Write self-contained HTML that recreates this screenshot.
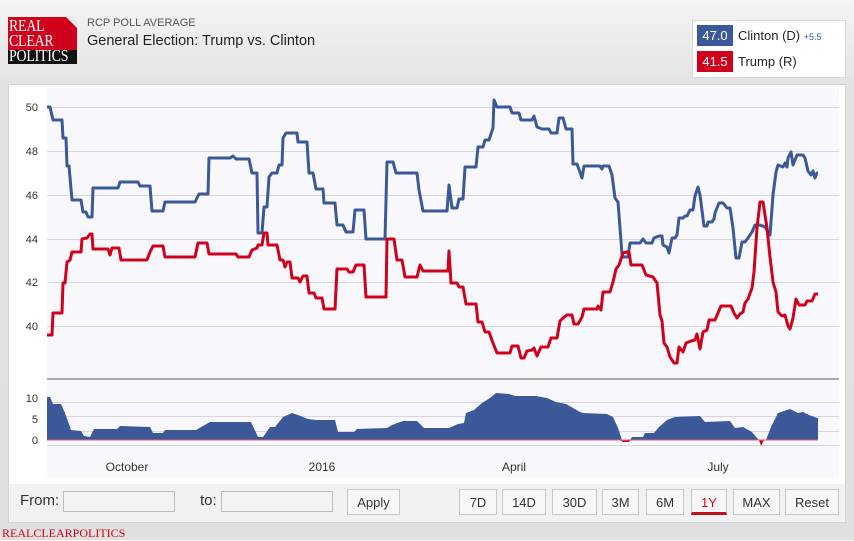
<!DOCTYPE html>
<html><head><meta charset="utf-8"><style>
body{margin:0;width:854px;height:540px;overflow:hidden;background:linear-gradient(#f4f4f4,#e2e2e2 90px,#e0e0e0);font-family:"Liberation Sans",sans-serif;position:relative}
.a{position:absolute}
.btn{position:absolute;top:489px;height:26px;border:1px solid #c8c8c8;background:#f7f7f7;font-size:13px;line-height:26px;text-align:center;color:#333;box-sizing:border-box}
.inp{position:absolute;top:491px;height:21px;border:1px solid #bbb;background:#f3f3f3;box-sizing:border-box}
</style></head><body>
<div class="a" style="left:8px;top:17px;width:69px;height:47px;background:#d0021b"></div>
<div class="a" style="left:66px;top:17px;width:0;height:0;border-left:11px solid transparent;border-top:11px solid #e9e9e9"></div>
<div class="a" style="left:8px;top:50px;width:69px;height:14px;background:#111"></div>
<div class="a" style="left:9px;top:18px;color:#fff;font-family:'Liberation Serif',serif;font-size:17px;line-height:15px;transform:scaleX(0.82);transform-origin:0 0;letter-spacing:-0.3px">REAL<br>CLEAR<br>POLITICS</div>
<div class="a" style="left:87px;top:17px;font-size:11px;color:#555">RCP POLL AVERAGE</div>
<div class="a" style="left:87px;top:33px;font-size:14.5px;color:#222">General Election: Trump vs. Clinton</div>
<div class="a" style="left:692px;top:20px;width:154px;height:58px;background:#fff;border:1px solid #d8d8d8;box-sizing:border-box"></div>
<div class="a" style="left:697px;top:25px;width:36px;height:21px;background:#3b5998;color:#fff;font-size:13px;line-height:21px;text-align:center">47.0</div>
<div class="a" style="left:738px;top:28px;font-size:13px;color:#222">Clinton (D) <span style="font-size:9px;color:#3b5998">+5.5</span></div>
<div class="a" style="left:697px;top:51px;width:36px;height:21px;background:#d0021b;color:#fff;font-size:13px;line-height:21px;text-align:center">41.5</div>
<div class="a" style="left:738px;top:54px;font-size:13px;color:#222">Trump (R)</div>
<div class="a" style="left:8px;top:84px;width:838px;height:439px;background:#fff;border:1px solid #d4d4d4;box-sizing:border-box"></div>
<svg class="a" style="left:0;top:0" width="854" height="540">
<rect x="47" y="88" width="792" height="390" fill="#f8f8fc"/>
<g stroke="#d6d6dc" stroke-width="1">
<line x1="47" x2="839" y1="107.5" y2="107.5"/><line x1="47" x2="839" y1="151.5" y2="151.5"/><line x1="47" x2="839" y1="195.5" y2="195.5"/><line x1="47" x2="839" y1="239.5" y2="239.5"/><line x1="47" x2="839" y1="282.5" y2="282.5"/><line x1="47" x2="839" y1="326.5" y2="326.5"/>
<line x1="47" x2="839" y1="402.5" y2="402.5"/><line x1="47" x2="839" y1="416.5" y2="416.5"/><line x1="47" x2="839" y1="431.5" y2="431.5"/><line x1="47" x2="839" y1="445.5" y2="445.5"/>
</g>
<line x1="47" x2="839" y1="379" y2="379" stroke="#aaa" stroke-width="2"/>
<g font-size="11" fill="#333" text-anchor="end">
<text x="38" y="111">50</text><text x="38" y="155">48</text><text x="38" y="199">46</text><text x="38" y="243">44</text><text x="38" y="286">42</text><text x="38" y="330">40</text>
<text x="38" y="402">10</text><text x="38" y="423">5</text><text x="38" y="444">0</text>
</g>
<g font-size="12" fill="#333" text-anchor="middle">
<text x="127" y="471">October</text><text x="322" y="471">2016</text><text x="514" y="471">April</text><text x="718" y="471">July</text>
</g>
<path fill="#3b5998" d="M47,440 L47,397 50,397 53,404 61,404 65,413 71,430 81,431 84,436 90,437 94,429 117,429 120,426 150,427 153,433 163,433 165,430 196,430 210,422 251,422 258,437 263,437 270,427 275,427 283,417 292,413 298,415 308,419 316,420 335,420 338,432 354,432 357,429 387,428 392,425 403,421 417,421 424,428 449,428 458,424 464,423 466,413 474,410 482,403 490,398 496,393 509,394 515,396 536,396 547,398 556,402 566,404 580,412 583,413 607,414 613,417 618,428 622,440 630,440 632,437 643,437 645,433 654,433 659,427 667,420 675,417 700,416 705,422 730,421 735,428 743,427 752,432 757,438 759,440 766,440 771,427 778,413 790,409 798,413 803,412 809,415 817,418 818,418 818,440 Z"/>
<path fill="#d0021b" d="M620,440 L623,442 629,442 631,440 Z M759,440 L761,446 764,440 Z"/>
<line x1="47" x2="818" y1="440" y2="440" stroke="#e06070" stroke-width="1"/>
<polyline fill="none" stroke="#3b5998" stroke-width="3" stroke-linejoin="round" points="47,107 50,107 53,120 62,120 63,138 66,138 67,166 69,166 72,200 81,200 83,212 86,212 88,217 92,217 93,188 118,188 120,182 138,182 140,186 150,186 152,211 163,211 165,202 195,202 199,194 208,194 209,158 230,158 233,156 236,159 249,159 252,173 257,173 258,233 262,233 264,207 267,207 269,177 272,173 277,173 279,165 282,165 283,138 286,133 297,133 298,142 307,142 309,173 313,173 316,189 323,189 324,203 335,203 337,225 343,225 346,232 353,232 355,210 364,210 366,239 385,239 387,162 393,162 396,173 417,173 419,190 423,211 447,211 449,185 452,208 457,208 459,199 463,199 465,167 476,167 478,147 483,147 485,140 489,140 493,128 494,100 497,107 510,107 512,113 519,113 521,120 532,120 534,116 537,127 542,129 549,129 551,133 557,133 559,118 563,118 566,129 572,129 573,164 577,164 582,178 584,166 600,166 602,169 603,166 609,166 612,175 615,198 618,202 622,254 623,257 628,257 630,243 640,243 643,239 646,243 652,243 654,238 659,236 662,236 663,245 667,247 669,253 672,238 675,238 677,235 679,218 683,218 685,216 687,216 690,210 693,210 695,196 698,187 700,195 704,226 707,226 708,222 712,222 714,219 715,213 719,203 723,203 727,208 730,208 733,228 736,258 739,258 742,242 745,242 748,238 752,232 755,225 760,225 765,227 770,235 773,195 776,172 778,165 783,167 785,163 787,167 788,158 791,152 793,165 797,155 803,155 805,158 808,171 811,175 813,171 815,178 817,173 818,173"/>
<polyline fill="none" stroke="#d0021b" stroke-width="3" stroke-linejoin="round" points="47,335 52,335 53,313 62,313 63,283 65,283 67,262 70,260 72,252 81,252 82,239 87,238 90,234 92,234 93,249 108,249 110,255 112,248 119,248 121,260 147,260 150,252 153,246 163,246 165,257 195,257 198,243 207,243 209,254 236,254 238,257 249,257 252,250 257,248 258,245 262,245 264,233 267,233 268,245 277,245 280,260 283,260 285,267 287,262 290,262 292,278 298,278 300,282 303,276 307,276 309,293 314,293 316,298 322,298 324,309 335,309 337,269 347,269 349,272 353,272 356,265 364,265 366,297 386,297 387,239 394,239 397,260 402,260 405,277 417,277 420,265 423,271 448,271 449,251 451,283 457,283 459,287 463,287 466,304 476,304 478,322 482,322 485,332 489,332 493,343 497,353 510,353 512,346 518,346 521,358 524,358 527,351 532,350 534,348 537,356 541,347 548,347 551,338 557,338 560,321 563,318 567,315 572,315 574,324 578,324 582,317 584,309 597,309 598,306 601,310 603,292 610,292 613,282 616,269 619,265 623,253 627,252 629,252 631,265 642,265 646,275 653,277 657,283 660,315 662,321 664,343 667,347 670,357 674,363 677,363 679,347 683,352 686,343 691,341 695,340 697,334 700,349 703,332 707,330 709,320 715,320 721,306 731,306 734,313 737,318 740,314 743,312 745,303 748,299 752,288 754,272 757,228 760,202 763,202 767,228 770,257 773,282 776,292 778,312 782,316 785,315 788,326 790,329 793,318 796,299 799,305 805,305 807,301 812,301 815,294 818,294"/>
</svg>
<div class="a" style="left:9px;top:484px;width:836px;height:38px;background:#f2f2f2"></div>
<div class="a" style="left:20px;top:492px;font-size:15px;color:#333">From:</div>
<div class="inp" style="left:63px;width:112px"></div>
<div class="a" style="left:200px;top:492px;font-size:15px;color:#333">to:</div>
<div class="inp" style="left:221px;width:112px"></div>
<div class="btn" style="left:347px;width:53px">Apply</div>
<div class="btn" style="left:459px;width:38px">7D</div>
<div class="btn" style="left:502px;width:44px">14D</div>
<div class="btn" style="left:552px;width:45px">30D</div>
<div class="btn" style="left:602px;width:37px">3M</div>
<div class="btn" style="left:646px;width:38px">6M</div>
<div class="btn" style="left:691px;width:36px;color:#d0021b;border-bottom:3px solid #c0101b">1Y</div>
<div class="btn" style="left:733px;width:47px">MAX</div>
<div class="btn" style="left:785px;width:54px">Reset</div>
<div class="a" style="left:2px;top:526px;font-family:'Liberation Serif',serif;font-size:12px;color:#d0021b">REALCLEARPOLITICS</div>
</body></html>
